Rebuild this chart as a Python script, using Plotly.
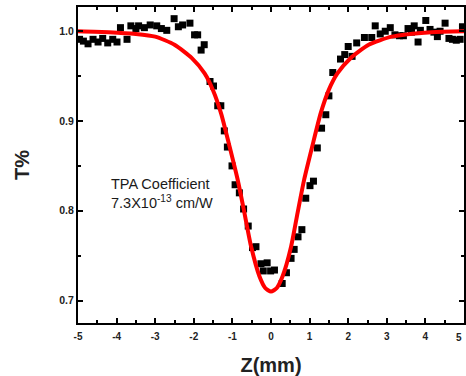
import plotly.graph_objects as go

# measured data (Z in mm, normalized transmittance)
z_data = [-4.96, -4.86, -4.74, -4.61, -4.48, -4.36, -4.23, -4.10, -3.99, -3.90,
          -3.73, -3.63, -3.50, -3.43, -3.28, -3.13, -2.96, -2.84, -2.70, -2.51,
          -2.40, -2.29, -2.10, -1.98, -1.90, -1.81, -1.73, -1.58, -1.49, -1.38,
          -1.30, -1.21, -1.13, -1.01, -0.93, -0.82, -0.71, -0.59, -0.48, -0.39,
          -0.26, -0.20, -0.10, -0.01, 0.09, 0.29, 0.40, 0.52, 0.60, 0.70,
          0.80, 0.90, 1.01, 1.10, 1.20, 1.31, 1.42, 1.50, 1.60, 1.80,
          1.91, 2.00, 2.10, 2.22, 2.42, 2.61, 2.70, 2.83, 2.96, 3.09,
          3.21, 3.33, 3.43, 3.55, 3.64, 3.71, 3.81, 3.87, 4.01, 4.12,
          4.22, 4.31, 4.38, 4.51, 4.61, 4.70, 4.80, 4.90, 4.96]
t_data = [0.991, 0.989, 0.986, 0.991, 0.988, 0.992, 0.987, 0.991, 0.988, 1.004,
          0.991, 1.006, 1.003, 1.006, 1.004, 1.007, 1.006, 1.003, 1.001, 1.014,
          1.005, 1.007, 1.009, 0.996, 0.996, 0.979, 0.985, 0.944, 0.939, 0.917,
          0.917, 0.889, 0.871, 0.850, 0.829, 0.820, 0.802, 0.783, 0.759, 0.760,
          0.741, 0.733, 0.742, 0.733, 0.734, 0.719, 0.731, 0.747, 0.757, 0.771,
          0.779, 0.814, 0.828, 0.833, 0.870, 0.892, 0.907, 0.928, 0.954, 0.969,
          0.974, 0.983, 0.972, 0.987, 0.993, 0.993, 1.006, 0.997, 1.000, 1.004,
          0.996, 0.995, 0.995, 1.003, 0.999, 1.006, 0.988, 1.001, 1.012, 1.002,
          0.999, 0.994, 1.000, 1.009, 0.992, 0.991, 0.990, 0.991, 1.005]

# fitted curve
z_fit = [-5.0, -4.2, -3.5, -3.0, -2.5, -2.05, -1.72, -1.5, -1.29, -1.07,
         -0.86, -0.69, -0.52, -0.30, -0.15, 0.0, 0.15, 0.30, 0.52, 0.69,
         0.86, 1.07, 1.29, 1.50, 1.72, 2.06, 2.53, 3.13, 4.16, 5.0]
t_fit = [1.000, 0.999, 0.997, 0.994, 0.985, 0.970, 0.953, 0.934, 0.908, 0.871,
         0.834, 0.798, 0.761, 0.727, 0.714, 0.710, 0.714, 0.727, 0.760, 0.798,
         0.835, 0.872, 0.909, 0.935, 0.953, 0.970, 0.985, 0.994, 0.999, 1.000]

x_ticks = [-5, -4, -3, -2, -1, 0, 1, 2, 3, 4, 5]
y_ticks = [0.7, 0.8, 0.9, 1.0]

FONT = "Arial, Liberation Sans, sans-serif"

fig = go.Figure()
fig.add_trace(go.Scatter(x=z_data, y=t_data, mode="markers",
                         marker=dict(symbol="square", size=7, color="black"),
                         showlegend=False))
fig.add_trace(go.Scatter(x=z_fit, y=t_fit, mode="lines",
                         line=dict(color="#ff0000", width=4, shape="spline", smoothing=0.6),
                         showlegend=False))

fig.add_annotation(x=-4.2, y=0.819, xref="x", yref="y", xanchor="left", yanchor="middle",
                   align="left", showarrow=False,
                   text="TPA Coefficient<br>7.3X10<sup>-13</sup> cm/W",
                   font=dict(family=FONT, size=14.5, color="#1a1a1a"))

# last x tick label sits at the right edge of the picture
fig.add_annotation(x=x_ticks[-1], y=0, xref="x", yref="paper", xanchor="right", yanchor="top",
                   xshift=0, yshift=-7, showarrow=False, text=str(x_ticks[-1]),
                   font=dict(family=FONT, size=10, color="#222222", weight="bold"))

axis_common = dict(showline=True, linewidth=2, linecolor="black", mirror="ticks",
                   ticks="inside", ticklen=5, tickwidth=1.5, tickcolor="black",
                   showgrid=False, zeroline=False)

fig.update_xaxes(range=[-5, 5], tickvals=x_ticks[:-1], ticktext=[str(v) for v in x_ticks[:-1]],
                 minor=dict(ticks="inside", ticklen=3, tickwidth=1.5, tickcolor="black", dtick=0.5, tick0=0),
                 tickfont=dict(family=FONT, size=10, color="#222222", weight="bold"),
                 ticklabelstandoff=3,
                 title=dict(text="Z(mm)", font=dict(family=FONT, size=20, color="#222222", weight="bold"), standoff=17),
                 **axis_common)
fig.update_yaxes(range=[0.675, 1.027], tickvals=y_ticks, ticktext=["%.1f" % v for v in y_ticks],
                 minor=dict(ticks="inside", ticklen=3, tickwidth=1.5, tickcolor="black", dtick=0.05, tick0=0),
                 tickfont=dict(family=FONT, size=10.5, color="#222222", weight="bold"),
                 title=dict(text="T%", font=dict(family=FONT, size=20, color="#222222", weight="bold"), standoff=24),
                 **axis_common)

fig.update_layout(width=466, height=376, margin=dict(l=78, r=0, t=7, b=53),
                  plot_bgcolor="white", paper_bgcolor="white")

fig.write_html("out.html")
